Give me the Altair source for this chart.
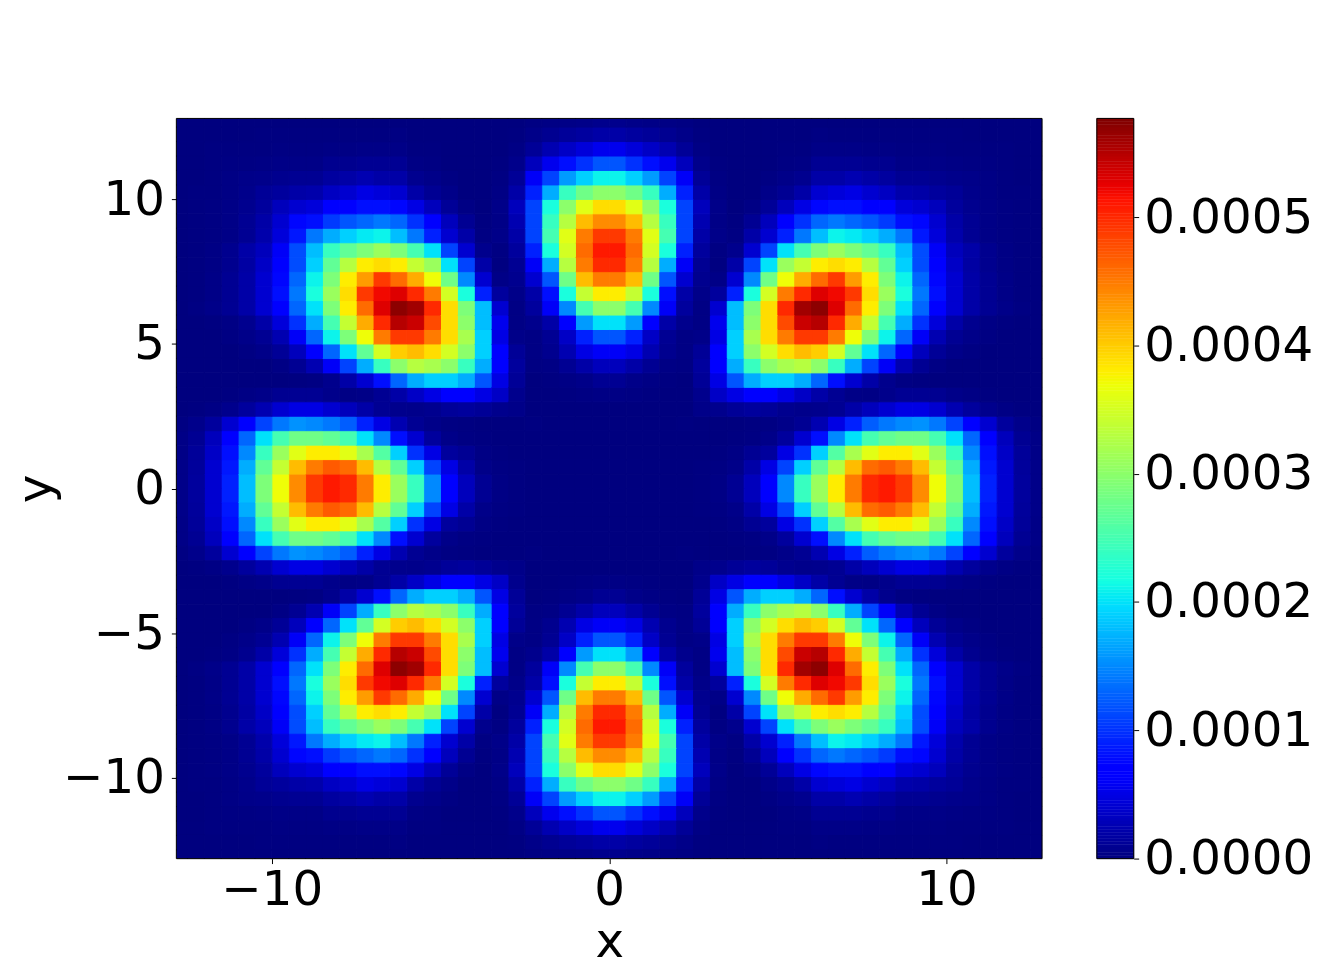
import altair as alt
import numpy as np
import pandas as pd

# Density, in units of 1e-5, upper right quadrant.
# Rows go from y=0.25 upward, columns from x=0.25 rightward, in steps of 0.5.
QUAD = [
[0,0,0,0,0,.1,.3,1,3,7,15,24,31,38,45,50,51,49,44,37,29,18,9,4,1.5,.5],
[0,0,0,0,0,.1,.2,.5,2,5,11,19,27,33,41,46,47,45,41,34,27,17,8.5,4,1.4,.5],
[0,0,0,0,0,0,.1,.3,1,1.5,5,10,19,26,32,36,38,38,36,31,24,15,8,3.5,1.3,.4],
[0,0,0,0,0,0,0,.1,.2,.5,1.5,4,8,15,20,25,27,28,28,25,20,13,6.5,3,1,.4],
[0,0,0,0,.1,0,0,0,.1,.2,.5,1,2.5,5,9,12.5,14,15,15.5,14,11,7,4,1.5,.6,.2],
[0,0,0,0,0,.5,.7,1.2,1.5,1.3,.8,.6,.7,1,2,3,4,5,5,4,2.5,1.5,.7,.3,.1,0],
[.3,.2,.1,0,0,.7,3.5,5,6.5,6.5,5,3.5,2,1,.4,.3,.6,1,1,.9,.5,.3,.1,0,0,0],
[1,.5,.3,.1,0,1.2,5,12,17,19,19,17,13,8,4,2,.7,.2,.1,0,0,0,0,0,0,0],
[3,2,1,.3,.2,1.5,6.5,17,24,30,32,33,30,24,17,11,6,2.5,1,.3,0,0,0,0,0,0],
[6,5,2.5,.8,.3,1.2,6.5,19,30,35,39,41,40,35,27,20,13,7,3,1.2,.5,.2,0,0,0,0],
[12,9,3.5,1,.3,.5,5,19,32,39,45,49,49,45,37,29,21,13,6,2.5,1,.5,.2,0,0,0],
[20,16,7,2,.7,.3,5.5,18,30,39,48,54,55,50,42,34,25,17,10,4.5,2,.8,.3,.1,0,0],
[30,25,15,6,1.5,.3,4,18,29,39,50,56,57,53,46,38,29,20,13,7,4,2,1,.5,.2,0],
[38,34,22,8,2,.5,1.5,9,22,35,45,50,53,52,49,39,31,22,14,8,4,2,1,.4,.1,0],
[45,41,28,12,4,.8,.4,4,15,28,37,42,46,49,43,38,29,21,13,7.5,4,2,1,.4,.1,0],
[50,45,33,17,6,1,.1,2,11,20,31,34,38,39,38,33,27,19,11.5,7,3.5,1.8,.8,.3,.1,0],
[51,46,35,22,9,1.5,.2,.7,4,11,20,25,29,31,29,27,24,18,11.5,6,3,2,.8,.3,.1,0],
[49,45,36,25,11,2,.5,.2,2,4,9,14,18,21,20.5,19,17,14,8.5,4.5,2.2,1,.4,.2,.1,0],
[44,41,33,24,11,2.5,.4,.1,1,3,7,10,13,14,13,12,10.5,8,7.5,4,2,1,.4,.2,.1,0],
[39,36,30,22,11,3,.5,0,.3,1.2,3,5,7.5,8,8,7,6.5,4.5,4,3,1.5,.8,.4,.2,.1,0],
[30,28,24,17,9,2,.3,0,0,.5,1,2,4,4.5,5,4,3.3,2.2,2,1.5,1.2,.6,.3,.1,.1,0],
[21,19,16,11,6,1.2,.2,0,0,.2,.5,.8,2,2,2.5,2,1.6,1,1,.8,.6,.5,.3,.1,0,0],
[12,10,8,5.5,3,.6,.1,0,0,0,.2,.3,1,1,1,.8,.8,.4,.4,.4,.3,.2,.2,.1,0,0],
[5.5,4.5,3.5,2.5,1.2,.3,0,0,0,0,.1,.1,.4,.4,.4,.3,.3,.2,.2,.2,.1,.1,.1,.1,0,0],
[2,1.6,1.3,.9,.5,.1,0,0,0,0,0,0,.2,.1,.1,.1,.1,.1,.1,.1,.1,0,0,0,0,0],
[.7,.5,.4,.3,.2,0,0,0,0,0,0,0,0,0,0,0,0,0,0,0,0,0,0,0,0,0],
]
STEP = 0.5
VMAX = 0.000577
X_LIMIT = 12.83
Y_LIMIT = 12.8
X_TICKS = [-10, 0, 10]
Y_TICKS = [-10, -5, 0, 5, 10]
BAR_TICKS = [0, 0.0001, 0.0002, 0.0003, 0.0004, 0.0005]
JET_STOPS = [0, .11, .125, .34, .35, .375, .64, .65, .66, .89, .91, 1]
JET_COLORS = ["rgb(0,0,127)", "rgb(0,0,255)", "rgb(0,0,255)", "rgb(0,219,255)",
              "rgb(0,229,247)", "rgb(21,255,226)", "rgb(238,255,8)", "rgb(247,245,0)",
              "rgb(255,236,0)", "rgb(255,19,0)", "rgb(232,0,0)", "rgb(127,0,0)"]
FONT = "DejaVu Sans"
FS = 48.5

rows = []
for j, row in enumerate(QUAD):
    for i, v in enumerate(row):
        for sx in (1, -1):
            for sy in (1, -1):
                x0, x1 = sorted((sx * i * STEP, sx * (i + 1) * STEP))
                y0, y1 = sorted((sy * j * STEP, sy * (j + 1) * STEP))
                rows.append(dict(x0=x0, x1=x1, y0=y0, y1=y1, v=v * 1e-5))
df = pd.DataFrame(rows)

color_scale = alt.Scale(domain=[s * VMAX for s in JET_STOPS], range=JET_COLORS,
                        interpolate="rgb", clamp=True)
col = alt.Color("v:Q", scale=color_scale, legend=None)
stk = alt.Stroke("v:Q", scale=color_scale, legend=None)

axis_style = dict(grid=False, domain=False, tickColor="black", tickSize=5, tickWidth=1,
                  labelFont=FONT, labelFontSize=FS, labelColor="black",
                  titleFont=FONT, titleFontSize=FS, titleFontWeight="normal", titleColor="black")

x_scale = alt.Scale(domain=[-X_LIMIT, X_LIMIT], nice=False, zero=False)
y_scale = alt.Scale(domain=[-Y_LIMIT, Y_LIMIT], nice=False, zero=False)

cells = alt.Chart(df).mark_rect(clip=True, strokeWidth=1).encode(
    x=alt.X("x0:Q", scale=x_scale,
            axis=alt.Axis(values=X_TICKS, title="x", format="d", labelOverlap=False,
                          labelPadding=3, titlePadding=5, **axis_style)),
    x2="x1:Q",
    y=alt.Y("y0:Q", scale=y_scale,
            axis=alt.Axis(values=Y_TICKS, title="y", format="d", labelOverlap=False,
                          labelPadding=7, titlePadding=2, **axis_style)),
    y2="y1:Q",
    color=col,
    stroke=stk,
)

frame = alt.Chart(pd.DataFrame({"a": [0]})).mark_rect(
    fillOpacity=0, stroke="black", strokeWidth=1
).encode(x=alt.value(0), x2=alt.value(869), y=alt.value(0), y2=alt.value(743))

main = alt.layer(cells, frame).properties(width=869, height=743)

levels = np.linspace(0, VMAX, 257)
bar_df = pd.DataFrame({"y0": levels[:-1], "y1": levels[1:], "v": (levels[:-1] + levels[1:]) / 2})
bar_cells = alt.Chart(bar_df).mark_rect(strokeWidth=0.5).encode(
    y=alt.Y("y0:Q", scale=alt.Scale(domain=[0, VMAX], nice=False, zero=False),
            axis=alt.Axis(orient="right", values=BAR_TICKS, format=".4f", title=None,
                          labelOverlap=False, labelBound=False, labelFlush=False,
                          labelPadding=5, **axis_style)),
    y2="y1:Q",
    color=col,
    stroke=stk,
)
bar_frame = alt.Chart(pd.DataFrame({"a": [0]})).mark_rect(
    fillOpacity=0, stroke="black", strokeWidth=1
).encode(x=alt.value(0), x2=alt.value(37), y=alt.value(0), y2=alt.value(743))
bar = alt.layer(bar_cells, bar_frame).properties(width=37, height=743)

chart = alt.hconcat(main, bar, spacing=53).properties(
    padding={"left": 3, "top": 108, "right": 0, "bottom": 6},
).configure_view(stroke="black", strokeWidth=1).configure(background="white")

chart.save("out.html", embed_options={"renderer": "svg", "actions": False})
